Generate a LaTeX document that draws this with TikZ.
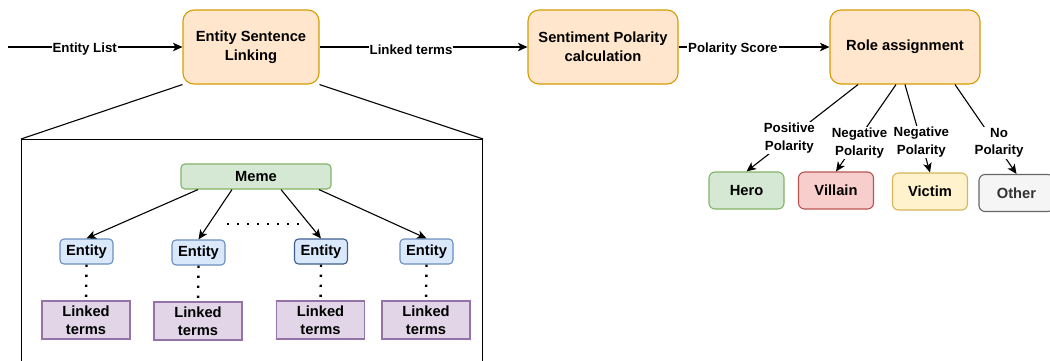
\documentclass[tikz,border=0pt]{standalone}
\usepackage{fontspec}
\setmainfont{Liberation Sans}
\usetikzlibrary{arrows.meta}

\definecolor{stageFill}{HTML}{FFE6CC}
\definecolor{stageLine}{HTML}{D79B00}
\definecolor{greenFill}{HTML}{D5E8D4}
\definecolor{greenLine}{HTML}{82B366}
\definecolor{blueFill}{HTML}{DAE8FC}
\definecolor{blueLine}{HTML}{6C8EBF}
\definecolor{blueDark}{HTML}{3F5E8C}
\definecolor{purpleFill}{HTML}{E1D5E7}
\definecolor{purpleLine}{HTML}{9673A6}
\definecolor{redFill}{HTML}{F8CECC}
\definecolor{redLine}{HTML}{B85450}
\definecolor{yellowFill}{HTML}{FFF2CC}
\definecolor{yellowLine}{HTML}{D6B656}
\definecolor{greyFill}{HTML}{F5F5F5}
\definecolor{greyLine}{HTML}{666666}
\definecolor{greyText}{HTML}{333333}

\newcommand\dgBoxFont{\bfseries\fontsize{14.7}{19}\selectfont}
\newcommand\dgSmallFont{\bfseries\fontsize{14.7}{17.5}\selectfont}
\newcommand\dgLabelFont{\bfseries\fontsize{13.3}{17.7}\selectfont}

\tikzset{
  base/.style={draw, line width=1.1pt, align=center, inner sep=0pt},
  stage/.style={base, fill=stageFill, draw=stageLine, rounded corners=11pt,
    minimum height=74pt, font=\dgBoxFont},
  role/.style={base, rounded corners=6pt, minimum width=75pt,
    minimum height=37pt, font=\dgSmallFont},
  memebox/.style={base, fill=greenFill, draw=greenLine, rounded corners=4pt,
    minimum width=150pt, minimum height=25pt, font=\dgSmallFont},
  entity/.style={base, fill=blueFill, draw=blueLine, rounded corners=4pt,
    minimum width=53pt, minimum height=25pt, font=\dgSmallFont},
  terms/.style={base, fill=purpleFill, draw=purpleLine,
    minimum width=88pt, minimum height=38pt, font=\dgSmallFont},
  flow/.style={line width=1.1pt, -{Stealth[length=9.5pt,width=8.5pt,inset=2.5pt]}},
  plain/.style={line width=1.1pt},
  dots/.style={line width=2.4pt, dash pattern=on 2.4pt off 7.6pt},
  elabel/.style={fill=white, inner sep=1pt, align=center, font=\dgLabelFont},
  hlabel/.style={elabel, yshift=-2.5pt},
}

\begin{document}
\begin{tikzpicture}[x=1pt,y=-1pt]
\useasboundingbox (0,0) rectangle (1050,360);
\clip (0,0) rectangle (1050,360);

% main pipeline
\coordinate (src) at (8,47);
\node[stage, minimum width=136pt] (esl) at (251,47) {Entity Sentence\\Linking};
\node[stage, minimum width=150pt] (spc) at (603,47) {Sentiment Polarity\\calculation};
\node[stage, minimum width=150pt] (rol) at (905,47) {Role assignment};

\draw[flow] (src) -- node[hlabel, pos=0.44] {Entity List} (esl);
\draw[flow] (esl) -- node[hlabel, pos=0.44] {Linked terms} (spc);
\draw[flow] (spc) -- node[hlabel, pos=0.36] {Polarity Score} (rol);

% roles
\node[role, fill=greenFill, draw=greenLine] (hero) at (746.5,190.5) {Hero};
\node[role, fill=redFill, draw=redLine] (villain) at (836,190.5) {Villain};
\node[role, fill=yellowFill, draw=yellowLine] (victim) at (930,191.5) {Victim};
\node[role, fill=greyFill, draw=greyLine, text=greyText] (other) at (1016.5,193) {Other};

\draw[flow] ([xshift=-47pt]rol.south) -- node[elabel, pos=0.616] {Positive\\Polarity} (hero.north);
\draw[flow] ([xshift=-9pt]rol.south) -- node[elabel, pos=0.674, xshift=4pt] {Negative\\Polarity} (villain.north);
\draw[flow] (rol.south) -- node[elabel, pos=0.655] {Negative\\Polarity} (victim.north);
\draw[flow] ([xshift=50pt]rol.south) -- node[elabel, pos=0.652, xshift=4pt] {No\\Polarity} (other.north);

% detail of the linking step
\node[base, minimum width=461pt, minimum height=240pt, anchor=north west] (inset) at (21,139) {};
\draw[plain] (esl.south west) -- (inset.north west);
\draw[plain] (esl.south east) -- (inset.north east);

\node[memebox] (meme) at (256,176.5) {Meme};

\node[entity] (e1) at (86.5,251.5) {Entity};
\node[entity] (e2) at (198.5,252.5) {Entity};
\node[entity, draw=blueDark] (e3) at (321,251.5) {Entity};
\node[entity] (e4) at (426.5,251.5) {Entity};

\node[terms] (t1) at (86,320) {Linked\\terms};
\node[terms] (t2) at (198,321) {Linked\\terms};
\node[terms] (t3) at (320.5,320) {Linked\\terms};
\node[terms] (t4) at (426,320) {Linked\\terms};

\draw[flow] ([xshift=-58pt]meme.south) -- (e1.north);
\draw[flow] ([xshift=-24pt]meme.south) -- (e2.north);
\draw[flow] ([xshift=25pt]meme.south) -- (e3.north);
\draw[flow] ([xshift=63pt]meme.south) -- (e4.north);

\coordinate (gapL) at (227,224);
\coordinate (gapR) at (302,224);
\draw[dots] (gapL) -- (gapR);

\draw[dots] (e1.south) -- (t1.north);
\draw[dots] (e2.south) -- (t2.north);
\draw[dots] (e3.south) -- (t3.north);
\draw[dots] (e4.south) -- (t4.north);
\end{tikzpicture}
\end{document}
